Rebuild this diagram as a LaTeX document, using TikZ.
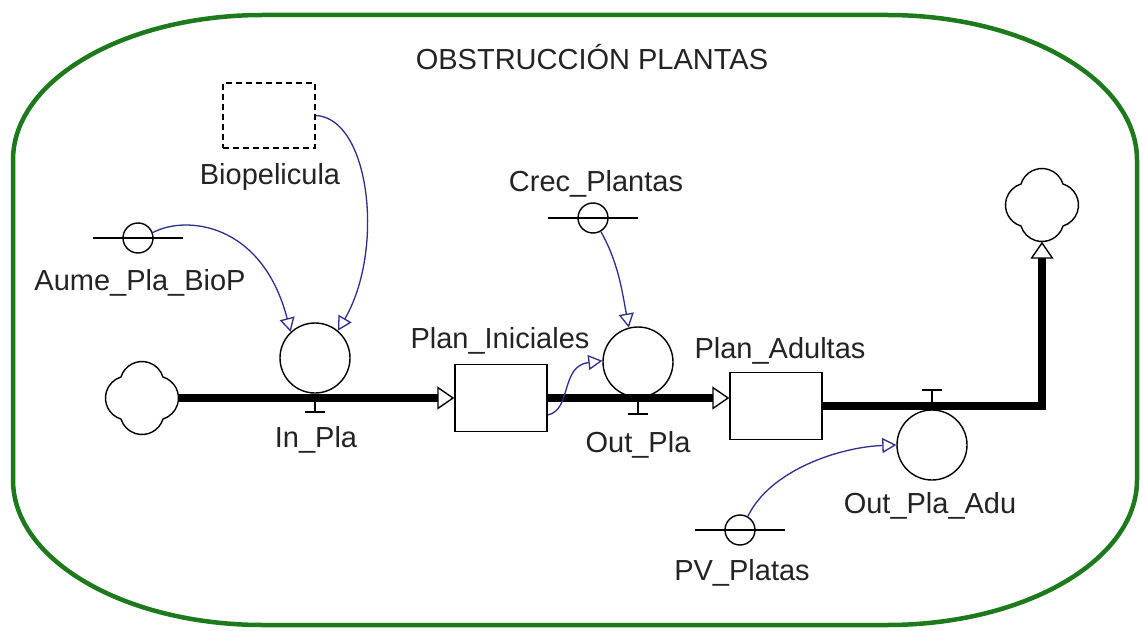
\documentclass[tikz,border=0pt]{standalone}
\usepackage{fontspec}
\setmainfont{Liberation Sans}
\usetikzlibrary{arrows.meta,calc}
\definecolor{bordergreen}{RGB}{28,122,28}
\definecolor{linknavy}{RGB}{45,45,140}
\definecolor{textgray}{RGB}{35,35,35}
\newcommand{\drawcloud}[1]{%
  \draw[thinline] ([shift={(21,-21)}]#1.center)
    arc[start angle=-72.8, delta angle=145.6, radius=22]
    arc[start angle=17.2, delta angle=145.6, radius=22]
    arc[start angle=107.2, delta angle=145.6, radius=22]
    arc[start angle=197.2, delta angle=145.6, radius=22] -- cycle;}
\begin{document}
\begin{tikzpicture}[x=1pt,y=-1pt,
  lbl/.style={anchor=base, inner sep=0pt, text=textgray, font=\fontsize{29}{34}\selectfont},
  thinline/.style={draw=black, line width=1.4pt},
  stockbox/.style={draw, line width=1.4pt, minimum width=92pt, minimum height=67pt, inner sep=0pt},
  ghostbox/.style={draw, line width=1.4pt, dash pattern=on 6pt off 4pt, minimum width=92pt, minimum height=65pt, inner sep=0pt},
  valvecirc/.style={circle, draw, line width=1.4pt, minimum size=70pt, inner sep=0pt},
  convcirc/.style={circle, draw, line width=1.4pt, minimum size=30pt, inner sep=0pt},
  cloudspot/.style={circle, minimum size=73pt, inner sep=0pt},
  pipe/.style={line width=8pt, -{Triangle[length=17pt,width=23pt,fill=white,line width=1.4pt]}},
  link/.style={draw=linknavy, line width=1.3pt, -{Triangle[length=14pt,width=15pt,fill=white,line width=1.3pt]}},
]
\useasboundingbox (0,0) rectangle (1143,631);
\fill[white] (0,0) rectangle (1143,631);

% border
\draw[bordergreen, line width=4.5pt] (13,160)
  arc[start angle=180, delta angle=90, x radius=250, y radius=145]
  -- (887,15)
  arc[start angle=270, delta angle=90, x radius=250, y radius=145]
  -- (1137,480)
  arc[start angle=0, delta angle=90, x radius=250, y radius=145]
  -- (263,625)
  arc[start angle=90, delta angle=90, x radius=250, y radius=145]
  -- cycle;

\node[lbl] (title) at (592,70) {OBSTRUCCIÓN PLANTAS};

% clouds
\node[cloudspot] (cL) at (142,398) {};
\node[cloudspot] (cR) at (1042,205) {};
\drawcloud{cL}
\drawcloud{cR}

% stocks
\node[stockbox] (pini) at (501,398) {};
\node[stockbox] (padu) at (776,406) {};
\node[ghostbox] (bio) at (269,115.5) {};

% valves
\node[valvecirc] (inpla) at (315,358) {};
\node[valvecirc] (outpla) at (638,362) {};
\node[valvecirc] (outadu) at (932,445) {};

% converters
\node[convcirc] (aume) at (138,238) {};
\node[convcirc] (crec) at (593,218) {};
\node[convcirc] (pv) at (740,530) {};
\draw[thinline] ([xshift=-45pt]aume.center) -- ([xshift=45pt]aume.center);
\draw[thinline] ([xshift=-45pt]crec.center) -- ([xshift=45pt]crec.center);
\draw[thinline] ([xshift=-45pt]pv.center) -- ([xshift=45pt]pv.center);

% pipes
\draw[pipe] (cL.east) -- (cL.east -| pini.west);
\draw[pipe] (pini.east) -- (pini.east -| padu.west);
\draw[pipe] (padu.east) -- (padu.east -| cR.south) -- (cR.south);

% valve T marks
\coordinate (tin) at (inpla.south |- cL.east);
\coordinate (tout) at (outpla.south |- pini.east);
\coordinate (tadu) at (outadu.north |- padu.east);
\draw[thinline] (tin) -- ++(0,14) ++(-10,0) -- ++(20,0);
\draw[thinline] (tout) -- ++(0,16) ++(-10,0) -- ++(20,0);
\draw[thinline] (tadu) -- ++(0,-16) ++(-10,0) -- ++(20,0);

% labels
\node[lbl] (lbio) at (270,185) {Biopelicula};
\node[lbl] (laume) at (140,290) {Aume\_Pla\_BioP};
\node[lbl] (linpla) at (316,447) {In\_Pla};
\node[lbl] (lpini) at (500,348) {Plan\_Iniciales};
\node[lbl] (lcrec) at (596,192) {Crec\_Plantas};
\node[lbl] (loutpla) at (638,452) {Out\_Pla};
\node[lbl] (lpadu) at (780,358) {Plan\_Adultas};
\node[lbl] (loutadu) at (930,513) {Out\_Pla\_Adu};
\node[lbl] (lpv) at (742,580) {PV\_Platas};

% links
\draw[link] (bio.east) .. controls (370,118) and (385,250) .. (inpla.50);
\draw[link] (aume.20) .. controls (185,215) and (262,222) .. (inpla.133);
\draw[link] (crec.-60) .. controls (618,262) and (622,290) .. (outpla.105);
\draw[link] (pini.-20) .. controls (572,410) and (560,366) .. (outpla.178);
\draw[link] (pv.60) .. controls (770,470) and (840,447) .. (outadu.west);
\end{tikzpicture}
\end{document}
